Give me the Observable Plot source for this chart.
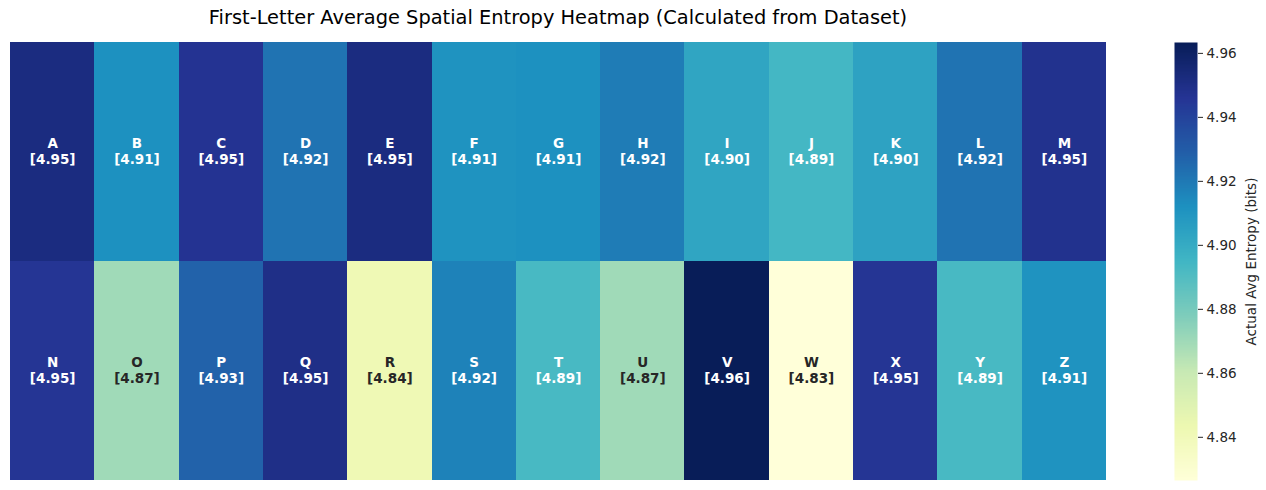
<!DOCTYPE html>
<html>
<head>
<meta charset="utf-8">
<script src="https://cdn.jsdelivr.net/npm/d3@7"></script>
<script src="https://cdn.jsdelivr.net/npm/@observablehq/plot@0.6"></script>
<style>
  html, body { margin: 0; padding: 0; background: #fff; }
  #wrap { position: relative; width: 1266px; height: 490px; font-family: "DejaVu Sans", sans-serif; }
  #title { position: absolute; left: 10px; width: 1096px; top: 6px; text-align: center; font-size: 19.4px; color: #000; }
  #heat { position: absolute; left: 0; top: 0; }
  #cbar { position: absolute; left: 1174px; top: 0; }
</style>
</head>
<body>
<div id="wrap">
  <div id="heat"></div>
  <div id="cbar"></div>
  <div id="title">First-Letter Average Spatial Entropy Heatmap (Calculated from Dataset)</div>
</div>
<script>
const letters = ["A","B","C","D","E","F","G","H","I","J","K","L","M",
                 "N","O","P","Q","R","S","T","U","V","W","X","Y","Z"];
const entropy = [4.952, 4.912, 4.947, 4.922, 4.952, 4.911, 4.912, 4.919, 4.903, 4.894, 4.904, 4.922, 4.948,
                 4.946, 4.870, 4.928, 4.950, 4.842, 4.917, 4.893, 4.870, 4.9634, 4.8265, 4.946, 4.893, 4.911];
const colorbarTicks = [4.84, 4.86, 4.88, 4.90, 4.92, 4.94, 4.96];
const ylgnbu = ["#ffffd9","#edf8b1","#c7e9b4","#7fcdbb","#41b6c4","#1d91c0","#225ea8","#253494","#081d58"];

const nCols = 13;
const data = letters.map((l, i) => ({
  letter: l, value: entropy[i], col: i % nCols, row: Math.floor(i / nCols)
}));
const vmin = d3.min(entropy), vmax = d3.max(entropy);
const colorScale = {type: "linear", domain: [vmin, vmax], interpolate: d3.piecewise(d3.interpolateRgb, ylgnbu)};

const heat = Plot.plot({
  width: 1116, height: 490,
  marginLeft: 10, marginRight: 10, marginTop: 42, marginBottom: 10,
  style: {fontFamily: "DejaVu Sans, sans-serif", background: "transparent"},
  x: {type: "band", domain: d3.range(nCols), padding: 0, round: false, axis: null},
  y: {type: "band", domain: [0, 1], padding: 0, round: false, axis: null},
  color: colorScale,
  marks: [
    Plot.cell(data, {x: "col", y: "row", fill: "value", shapeRendering: "crispEdges"}),
    Plot.text(data, {
      x: "col", y: "row", dy: -1.5,
      text: d => `${d.letter}\n[${d.value.toFixed(2)}]`,
      fill: d => d.value < 4.88 ? "#262626" : "#ffffff",
      fontWeight: "bold", fontSize: 13.5, lineHeight: 1.18
    })
  ]
});
document.getElementById("heat").appendChild(heat);

const cbar = Plot.plot({
  width: 92, height: 490,
  marginLeft: 0, marginRight: 69, marginTop: 42, marginBottom: 10,
  style: {fontFamily: "DejaVu Sans, sans-serif", fontSize: "13.5px", color: "#262626", background: "transparent"},
  x: {domain: [0, 1], axis: null},
  y: {domain: [vmin, vmax], axis: null},
  color: colorScale,
  marks: [
    Plot.raster({x1: 0, x2: 1, y1: vmin, y2: vmax, width: 1, height: 300, fill: (x, y) => y, imageRendering: "auto"}),
    Plot.axisY({anchor: "right", ticks: colorbarTicks, tickFormat: d3.format(".2f"), tickSize: 5, tickPadding: 4,
      label: "Actual Avg Entropy (bits)", labelAnchor: "center", labelArrow: "none", labelOffset: 58, stroke: "#262626"})
  ]
});
document.getElementById("cbar").appendChild(cbar);
</script>
</body>
</html>
